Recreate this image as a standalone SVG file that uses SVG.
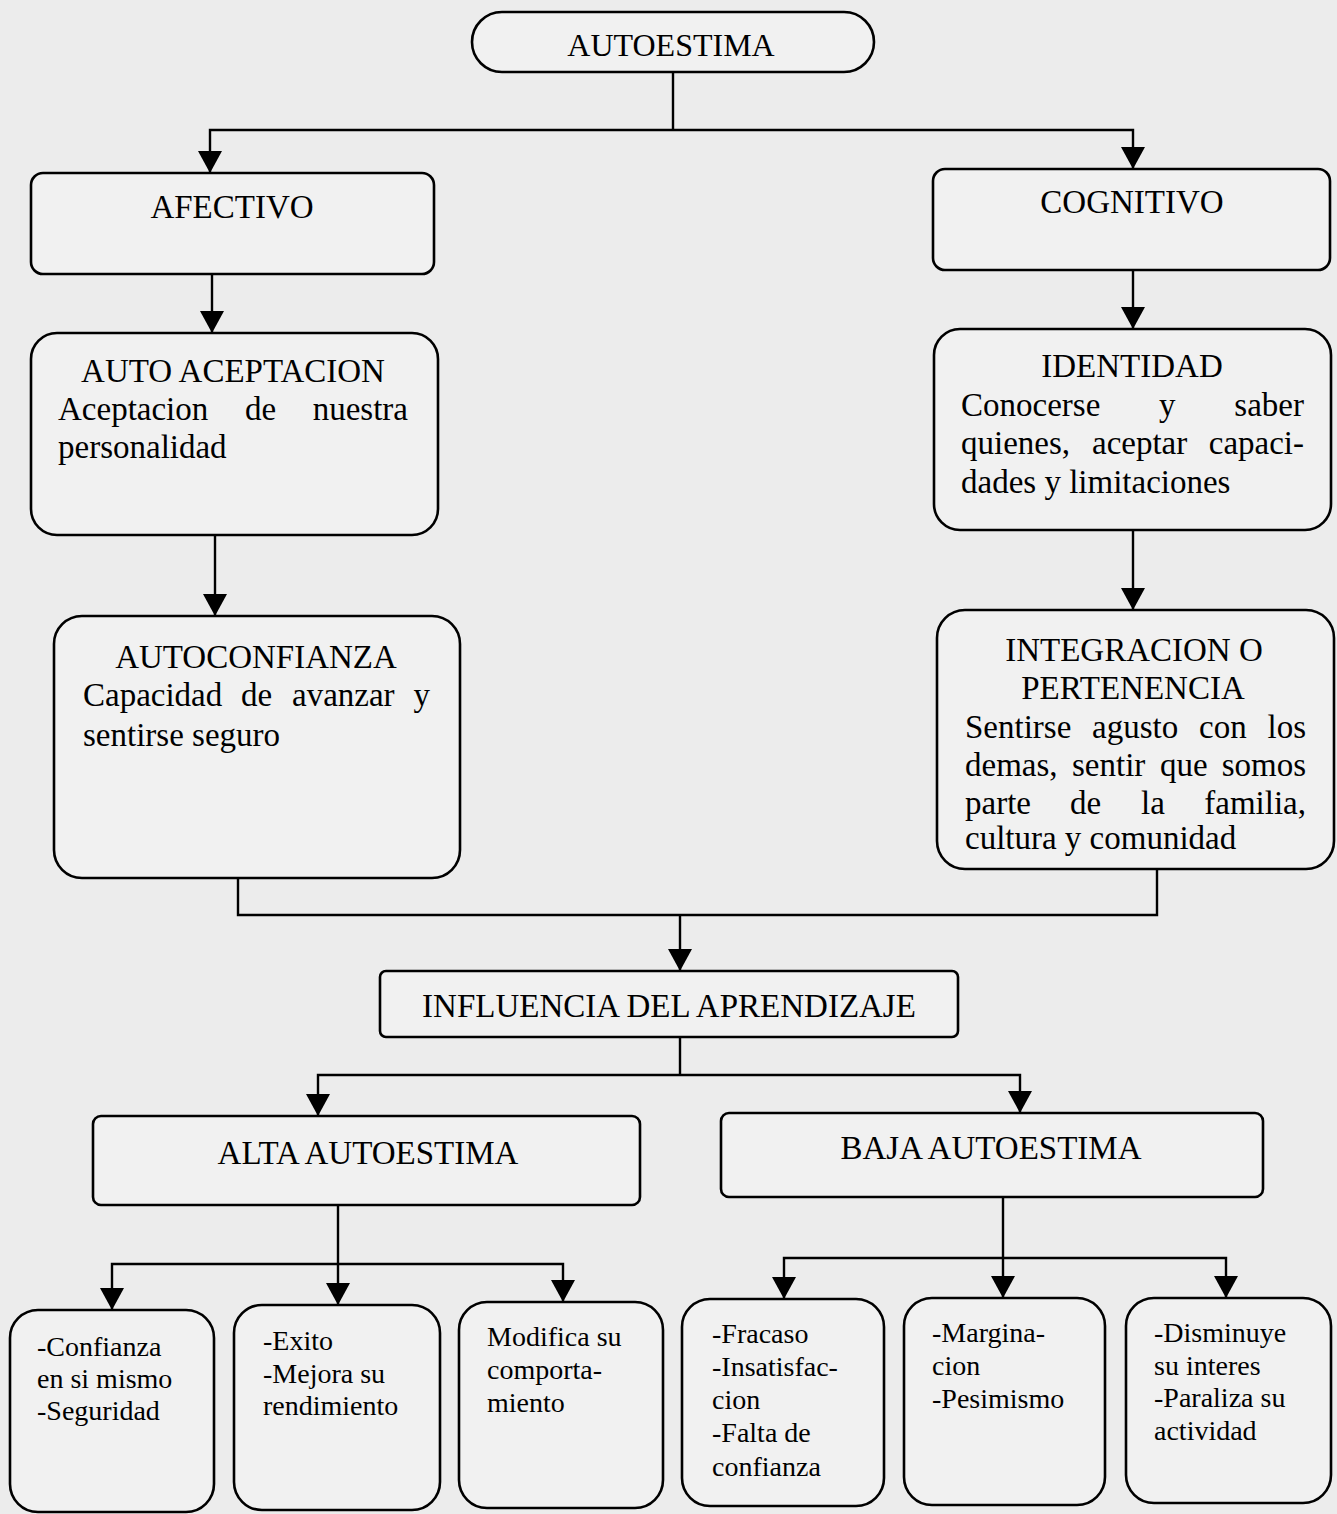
<svg xmlns="http://www.w3.org/2000/svg" width="1337" height="1514" viewBox="0 0 1337 1514">
<defs>
<style>
.box{fill:#f1f1f1;stroke:#000;stroke-width:2.6}
.t{font-family:"Liberation Serif","Times New Roman",serif;font-size:33px;fill:#000}
.s{font-family:"Liberation Serif","Times New Roman",serif;font-size:28px;fill:#000}
.c{text-anchor:middle}
.e{text-anchor:end}
.ln{fill:none;stroke:#000;stroke-width:2.4}
.ar{marker-end:url(#arr)}
</style>
<marker id="arr" markerUnits="userSpaceOnUse" markerWidth="22" markerHeight="24" refX="22" refY="12" orient="auto">
<path d="M0,0 L22,12 L0,24 z" fill="#000"/>
</marker>
</defs>
<rect width="1337" height="1514" fill="#ececec"/>

<g id="connectors">
<path class="ln" d="M673,72 V130"/>
<path class="ln ar" d="M673,130 H210 V173"/>
<path class="ln ar" d="M673,130 H1133 V169"/>
<path class="ln ar" d="M212,274 V333"/>
<path class="ln ar" d="M1133,270 V329"/>
<path class="ln ar" d="M215,535 V616"/>
<path class="ln ar" d="M1133,530 V610"/>
<path class="ln" d="M238,878 V915 H1157 V869"/>
<path class="ln ar" d="M680,915 V971"/>
<path class="ln" d="M680,1037 V1075"/>
<path class="ln ar" d="M680,1075 H318 V1116"/>
<path class="ln ar" d="M680,1075 H1020 V1113"/>
<path class="ln" d="M338,1205 V1264"/>
<path class="ln ar" d="M338,1264 H112 V1310"/>
<path class="ln ar" d="M338,1264 H563 V1302"/>
<path class="ln ar" d="M338,1264 V1305"/>
<path class="ln" d="M1003,1197 V1258"/>
<path class="ln ar" d="M1003,1258 H784 V1299"/>
<path class="ln ar" d="M1003,1258 H1226 V1298"/>
<path class="ln ar" d="M1003,1258 V1298"/>
</g>

<g id="autoestima">
<rect class="box" x="472" y="12" width="402" height="60" rx="30" ry="30"/>
<text class="t c" x="671" y="56" style="font-size:32px">AUTOESTIMA</text>
</g>

<g id="afectivo">
<rect class="box" x="31" y="173" width="403" height="101" rx="12"/>
<text class="t c" x="232" y="218">AFECTIVO</text>
</g>

<g id="cognitivo">
<rect class="box" x="933" y="169" width="397" height="101" rx="12"/>
<text class="t c" x="1132" y="213">COGNITIVO</text>
</g>

<g id="auto-aceptacion">
<rect class="box" x="31" y="333" width="407" height="202" rx="26"/>
<text class="t c" x="233" y="382">AUTO ACEPTACION</text>
<text class="t" y="420"><tspan x="58">Aceptacion</tspan><tspan x="245">de</tspan><tspan x="408" text-anchor="end">nuestra</tspan></text>
<text class="t" x="58" y="458">personalidad</text>
</g>

<g id="identidad">
<rect class="box" x="934" y="329" width="397" height="201" rx="26"/>
<text class="t c" x="1132" y="377">IDENTIDAD</text>
<text class="t" y="416"><tspan x="961">Conocerse</tspan><tspan x="1159">y</tspan><tspan x="1304" text-anchor="end">saber</tspan></text>
<text class="t" y="454"><tspan x="961">quienes,</tspan><tspan x="1092">aceptar</tspan><tspan x="1304" text-anchor="end">capaci-</tspan></text>
<text class="t" x="961" y="493">dades y limitaciones</text>
</g>

<g id="autoconfianza">
<rect class="box" x="54" y="616" width="406" height="262" rx="28"/>
<text class="t c" x="256" y="668">AUTOCONFIANZA</text>
<text class="t" y="706"><tspan x="83">Capacidad</tspan><tspan x="241">de</tspan><tspan x="292">avanzar</tspan><tspan x="430" text-anchor="end">y</tspan></text>
<text class="t" x="83" y="746">sentirse seguro</text>
</g>

<g id="integracion">
<rect class="box" x="937" y="610" width="397" height="259" rx="28"/>
<text class="t c" x="1134" y="661">INTEGRACION O</text>
<text class="t c" x="1133" y="699">PERTENENCIA</text>
<text class="t" y="738"><tspan x="965">Sentirse</tspan><tspan x="1092">agusto</tspan><tspan x="1199">con</tspan><tspan x="1306" text-anchor="end">los</tspan></text>
<text class="t" y="776"><tspan x="965">demas,</tspan><tspan x="1072">sentir</tspan><tspan x="1160">que</tspan><tspan x="1306" text-anchor="end">somos</tspan></text>
<text class="t" y="814"><tspan x="965">parte</tspan><tspan x="1070">de</tspan><tspan x="1141">la</tspan><tspan x="1306" text-anchor="end">familia,</tspan></text>
<text class="t" x="965" y="849">cultura y comunidad</text>
</g>

<g id="influencia">
<rect class="box" x="380" y="971" width="578" height="66" rx="6"/>
<text class="t c" x="669" y="1017">INFLUENCIA DEL APRENDIZAJE</text>
</g>

<g id="alta">
<rect class="box" x="93" y="1116" width="547" height="89" rx="8"/>
<text class="t c" x="368" y="1164">ALTA AUTOESTIMA</text>
</g>

<g id="baja">
<rect class="box" x="721" y="1113" width="542" height="84" rx="8"/>
<text class="t c" x="991" y="1159">BAJA AUTOESTIMA</text>
</g>

<g id="alta-1">
<rect class="box" x="10" y="1310" width="204" height="202" rx="28"/>
<text class="s" x="37" y="1356">-Confianza</text>
<text class="s" x="37" y="1388">en si mismo</text>
<text class="s" x="37" y="1420">-Seguridad</text>
</g>

<g id="alta-2">
<rect class="box" x="234" y="1305" width="206" height="205" rx="28"/>
<text class="s" x="263" y="1350">-Exito</text>
<text class="s" x="263" y="1383">-Mejora su</text>
<text class="s" x="263" y="1415">rendimiento</text>
</g>

<g id="alta-3">
<rect class="box" x="459" y="1302" width="204" height="206" rx="28"/>
<text class="s" x="487" y="1346">Modifica su</text>
<text class="s" x="487" y="1379">comporta-</text>
<text class="s" x="487" y="1412">miento</text>
</g>

<g id="baja-1">
<rect class="box" x="682" y="1299" width="202" height="207" rx="28"/>
<text class="s" x="712" y="1343">-Fracaso</text>
<text class="s" x="712" y="1376">-Insatisfac-</text>
<text class="s" x="712" y="1409">cion</text>
<text class="s" x="712" y="1442">-Falta de</text>
<text class="s" x="712" y="1476">confianza</text>
</g>

<g id="baja-2">
<rect class="box" x="904" y="1298" width="201" height="207" rx="28"/>
<text class="s" x="932" y="1342">-Margina-</text>
<text class="s" x="932" y="1375">cion</text>
<text class="s" x="932" y="1408">-Pesimismo</text>
</g>

<g id="baja-3">
<rect class="box" x="1126" y="1298" width="205" height="205" rx="28"/>
<text class="s" x="1154" y="1342">-Disminuye</text>
<text class="s" x="1154" y="1375">su interes</text>
<text class="s" x="1154" y="1407">-Paraliza su</text>
<text class="s" x="1154" y="1440">actividad</text>
</g>
</svg>
